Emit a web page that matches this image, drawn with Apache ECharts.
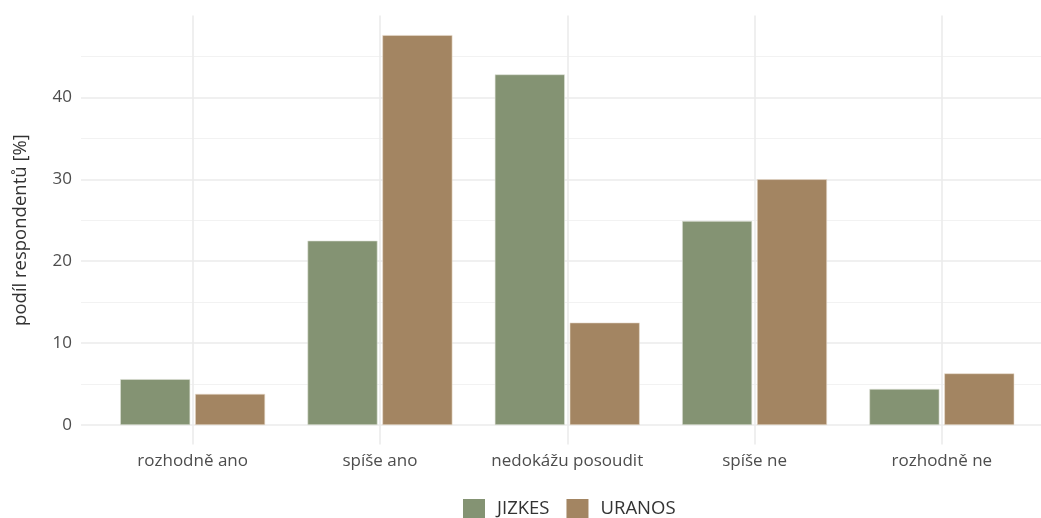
<!DOCTYPE html>
<html>
<head>
<meta charset="utf-8">
<script src="https://cdn.jsdelivr.net/npm/echarts@6/dist/echarts.min.js"></script>
<style>html,body{margin:0;padding:0;background:#fff}#c{width:1041px;height:518px}</style>
</head>
<body>
<div id="c"></div>
<script>
const categories = ['rozhodně ano', 'spíše ano', 'nedokážu posoudit', 'spíše ne', 'rozhodně ne'];
const seriesNames = ['JIZKES', 'URANOS'];
const jizkes = [5.6, 22.5, 42.8, 24.9, 4.4];
const uranos = [3.8, 47.6, 12.5, 30.0, 6.3];
const majorTicks = [0, 10, 20, 30, 40];
const minorTicks = [5, 15, 25, 35, 45];
const yTitle = 'podíl respondentů [%]';

const FONT = '"Open Sans", "Noto Sans", sans-serif';
const yMin = -2.38, yMax = 49.98;
const gridTop = 15.6, gridHeight = 428.9;

const chart = echarts.init(document.getElementById('c'), null, {renderer: 'canvas'});
chart.setOption({
  animation: false,
  backgroundColor: '#ffffff',
  grid: [
    {left: 81, right: 0, top: gridTop, height: gridHeight},
    {left: 99, right: 5.5, top: gridTop, height: gridHeight}
  ],
  xAxis: [
    {gridIndex: 0, type: 'value', min: 0, max: 1, show: false},
    {gridIndex: 1, type: 'category', data: categories,
     axisLine: {show: false}, axisTick: {show: false}, splitLine: {show: false},
     axisLabel: {interval: 0, color: '#4d4d4d', fontSize: 17, fontFamily: FONT, margin: 8}}
  ],
  yAxis: [
    {gridIndex: 0, type: 'value', min: yMin, max: yMax,
     name: yTitle, nameLocation: 'middle', nameGap: 51,
     nameTextStyle: {color: '#333333', fontSize: 18.5, fontFamily: FONT},
     axisLine: {show: false}, axisTick: {show: false}, splitLine: {show: false},
     axisLabel: {customValues: majorTicks, color: '#4d4d4d', fontSize: 17, fontFamily: FONT, margin: 9}},
    {gridIndex: 1, type: 'value', min: yMin, max: yMax, show: false, splitLine: {show: false}}
  ],
  legend: {
    top: 494, left: 458, itemWidth: 22, itemHeight: 20, itemGap: 17,
    icon: 'rect', data: seriesNames,
    itemStyle: {borderWidth: 0},
    textStyle: {color: '#333333', fontSize: 18.5, fontFamily: FONT, padding: [0, 0, 0, 7]}
  },
  series: [
    {type: 'line', xAxisIndex: 0, yAxisIndex: 0, data: [], silent: true, zlevel: 0, z: 0,
     markLine: {silent: true, symbol: ['none', 'none'], label: {show: false},
       data: minorTicks.map(v => ({yAxis: v, lineStyle: {color: '#f2f2f2', width: 1, type: 'solid'}}))
         .concat(majorTicks.map(v => ({yAxis: v, lineStyle: {color: '#ebebeb', width: 1.6, type: 'solid'}})))}},
    {type: 'line', xAxisIndex: 1, yAxisIndex: 1, data: [], silent: true, zlevel: 0, z: 0,
     markLine: {silent: true, symbol: ['none', 'none'], label: {show: false},
       lineStyle: {color: '#ebebeb', width: 1.6, type: 'solid'},
       data: categories.map(c => ({xAxis: c}))}},
    {type: 'bar', name: seriesNames[0], xAxisIndex: 1, yAxisIndex: 1, data: jizkes,
     barWidth: 70, barGap: '7%', zlevel: 1,
     itemStyle: {color: '#849373', borderColor: '#dfe3d9', borderWidth: 0.6}},
    {type: 'bar', name: seriesNames[1], xAxisIndex: 1, yAxisIndex: 1, data: uranos,
     barWidth: 70, barGap: '7%', zlevel: 1,
     itemStyle: {color: '#a38562', borderColor: '#e8dccd', borderWidth: 0.6}}
  ]
});
</script>
</body>
</html>
